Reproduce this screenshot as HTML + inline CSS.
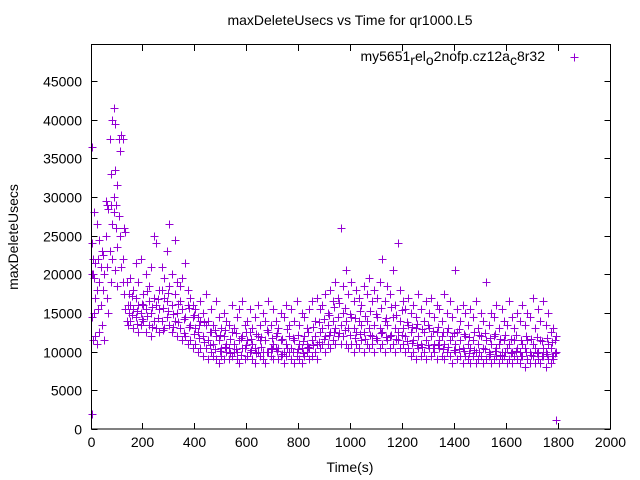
<!DOCTYPE html>
<html><head><meta charset="utf-8"><style>
body{margin:0;background:#fff;}
svg{display:block;font-family:"Liberation Sans",sans-serif;}
</style></head><body>
<svg id="chart" width="640" height="480" viewBox="0 0 640 480" xmlns="http://www.w3.org/2000/svg">
<rect width="640" height="480" fill="#fff"/>
<text x="350" y="25" font-size="14" text-anchor="middle">maxDeleteUsecs vs Time for qr1000.L5</text>
<text transform="translate(18,237) rotate(-90)" font-size="14" text-anchor="middle">maxDeleteUsecs</text>
<text x="350" y="472" font-size="14" text-anchor="middle">Time(s)</text>
<g id="ticks"></g>
<g id="pts"></g>
<rect x="91.5" y="44.5" width="519" height="384.5" fill="none" stroke="#000" stroke-width="1"/>
<g>
<text x="545" y="61" font-size="14" text-anchor="end">my5651<tspan dy="4">r</tspan><tspan dy="-4">el</tspan><tspan dy="4">o</tspan><tspan dy="-4">2nofp.cz12a</tspan><tspan dy="4">c</tspan><tspan dy="-4">8r32</tspan></text>
<path d="M570.5 57.5h8M574.5 53.5v8" stroke="#9400d3" stroke-width="1"/>
</g>
</svg>
<script>
const xTicks=[0,200,400,600,800,1000,1200,1400,1600,1800,2000];
const yTicks=[0,5000,10000,15000,20000,25000,30000,35000,40000,45000];
const times=[0,5,10,15,20,25,30,35,40,45,50,55,60,65,70,75,80,85,90,95,100,105,110,115,120,125,130,135,140,145,
150,160,170,180,190,200,210,220,230,240,250,260,270,280,290,300,310,320,330,340,350,360,370,380,390,400,410,420,430,440,450,460,470,480,490,500,510,520,530,540,550,560,570,580,590,600,610,620,630,640,650,660,670,680,690,700,710,720,730,740,750,760,770,780,790,800,810,820,830,840,850,860,870,880,890,900,910,920,930,940,950,960,970,980,990,1000,1010,1020,1030,1040,1050,1060,1070,1080,1090,1100,1110,1120,1130,1140,1150,1160,1170,1180,1190,1200,1210,1220,1230,1240,1250,1260,1270,1280,1290,1300,1310,1320,1330,1340,1350,1360,1370,1380,1390,1400,1410,1420,1430,1440,1450,1460,1470,1480,1490,1500,1510,1520,1530,1540,1550,1560,1570,1580,1590,1600,1610,1620,1630,1640,1650,1660,1670,1680,1690,1700,1710,1720,1730,1740,1750,1760,1770,1780,1790];
const maxDelete=[[36500,2000,24000,20000,14500],[20000,11500,22000],[19500,15000,28000],[17000,12000,21500],[26500,18000,11000],[22000,15500],[24500,19000,12500],[21000,16000],[23000,13500],[18000,22500],[20000,11500],[29500,25000],[29000,17000,21000],[28500,15000],[37500,23000],[29000,19000,33000],[40000,26500,22000],[41500,28000,30000],[39500,33500,20500],[29000,26000],[31500,18500,23500],[37500,27500],[36000,25000],[38000,21000],[37500,22000,19000],[26000,17500],[25500,15500],[19000,14000],[16000,13500],[17500,15000],
[16000,14000,19500],[15500,13000,18000],[17000,14500,21500],[16000,12500,19000],[15000,13500,22000],[17500,14000,16000],[15500,12500,20000],[16500,13500,18500],[15000,12000,21000],[17000,14000,25000],[16000,13000,24000],[15500,12500,18000],[18000,14000,21000],[17000,13000,19500],[16500,14500,23000],[18500,13500,26500],[16000,12500,20000],[17500,14000,24500],[15000,12000,19000],[16500,13000,18500],[15500,11500,19500],[14500,12000,21500],[16000,11000,18000],[13500,11500,17000],[14500,10500,16000],[13000,11000,15500],[12500,10000,14500],[14000,10500,16500],[12000,9500,15000],[13500,10500,17500],[11500,9000,14000],[12500,10000,15500],[11000,9500,13500],[12000,9000,16500],[11500,8500,14500],[10500,9500,13000],[12000,9000,15000],[11000,10000,14000],[10500,9000,13500],[12500,9500,16000],[11000,10000,13000],[10000,9000,14500],[11500,8500,15500],[12000,10500,16500],[10500,9000,13500],[11500,9500,14000],[12500,10000,15500],[11000,9000,13000],[10500,8500,14500],[12000,10000,16000],[11500,9500,13500],[10000,9000,15000],[11500,8500,14000],[12500,10000,16500],[10500,9500,13500],[11000,9000,15500],[12000,10500,14000],[10500,9000,13000],[11500,9500,15000],[10000,8500,14500],[11000,9500,16000],[12000,10000,13500],[10500,9000,15500],[11500,8500,14000],[10000,9500,16500],[11000,9000,13500],[10500,8500,15000],[12000,9500,14500],[11000,10000,13000],[10500,9000,15500],[11500,9500,16500],[12000,10000,14000],[11000,9000,17000],[12500,10500,15500],[13000,11000,16000],[12000,10000,17500],[13500,11000,15000],[12500,10500,18000],[14000,11500,16500],[13000,11000,19000],[14500,12000,17000],[13500,11000,26000],[15000,12000,18500],[14000,11000,20500],[13000,10500,17500],[14500,11000,19000],[13000,10000,16500],[12500,11000,18000],[14000,10500,17000],[13500,11500,16000],[12500,10000,18500],[14000,11000,17500],[13000,10500,19500],[12000,11000,16500],[13500,10000,18000],[14500,11500,17000],[13000,10500,19000],[12500,11000,22000],[14000,10000,16500],[13500,11500,18500],[12000,10500,17500],[14500,11000,20500],[13000,10000,16000],[12500,11500,24000],[14000,10500,18000],[13000,11000,16500],[12000,10000,15500],[13500,10500,17000],[12500,9500,15000],[11500,10000,16000],[13000,9000,14500],[12000,10500,17500],[11000,9500,15500],[12500,10000,14000],[11500,9000,16500],[13000,10500,15000],[12000,9500,17000],[11000,10000,14500],[12500,9000,16000],[11500,10500,15500],[12000,9500,14000],[11000,9000,17500],[12500,10000,15000],[11500,9500,16500],[12000,8500,14500],[11000,10000,20500],[12500,9000,15500],[11500,9500,14000],[10500,8500,16000],[12000,9500,15000],[11000,9000,13500],[10500,8500,15500],[11500,9500,14500],[10000,8500,16500],[11000,9000,13000],[12000,9500,15000],[10500,8500,14000],[11500,9000,19000],[10000,9500,13500],[11000,8500,15000],[12000,9000,14500],[10500,9500,16000],[11000,8500,13000],[10000,9000,15500],[11500,9500,14000],[10500,8500,13500],[11000,9000,16500],[10000,8500,14500],[11500,9500,13000],[10500,9000,15000],[10000,8500,14000],[11000,9500,16000],[10500,8000,13500],[11500,9000,15000],[10000,8500,14500],[11000,9500,17000],[10500,8500,13000],[10000,9000,15500],[11500,8500,14000],[10500,9500,16500],[10000,8000,13500],[11000,9000,15000],[10500,8500,12500],[9500,9000,13000],[10000,1200,12000]];
// in-between samples (time offset +5 from the 150..1790 grid)
const midTimes=[155,175,195,215,235,255,275,295,315,335,355,375,395,415,435,455,475,495,515,535,555,575,595,615,635,655,675,695,715,735,755,775,795,815,835,855,875,895,915,935,955,975,995,1015,1035,1055,1075,1095,1115,1135,1155,1175,1195,1215,1235,1255,1275,1295,1315,1335,1355,1375,1395,1415,1435,1455,1475,1495,1515,1535,1555,1575,1595,1615,1635,1655,1675,1695,1715,1735,1755,1775,1785];
const midValues=[[14800,17200],[15200,13600],[16200,14200],[14600,17800],[15800,13200],[14300,16800],[15600,12800],[15300,17600],[14900,13200],[13800,16200],[14200,12400],[13200,15600],[12300,14800],[11800,13400],[11200,13800],[10800,12600],[10300,12800],[10100,12200],[10600,12800],[9800,11600],[10300,12400],[9600,11800],[10800,12600],[10200,11600],[9800,12300],[10600,11900],[9900,12800],[10400,11800],[10100,12400],[9700,11600],[10500,12900],[9900,11800],[10300,12200],[9800,11400],[10600,12600],[10900,13200],[11300,13800],[11600,14200],[12200,14800],[12600,15800],[12400,16300],[12800,15600],[12100,14900],[11800,14300],[12300,15200],[11600,14600],[12100,15300],[11800,14900],[12400,15600],[11900,14400],[12200,15800],[11700,14800],[12100,15400],[11400,13800],[11100,13200],[10800,13600],[10600,12900],[10900,13400],[10500,12700],[10800,13200],[10300,12600],[10600,13100],[10200,12400],[10400,12900],[10100,12300],[9800,11900],[10200,12600],[9900,12100],[10300,12400],[9700,11800],[10100,12300],[9600,11700],[10000,12200],[9800,11600],[10100,12100],[9500,11500],[9900,12000],[9600,11700],[9800,11900],[9500,11400],[9700,11800],[9400,11300],[9800,11500]];
const X0=91.5,X1=610.5,Y0=429,Y1=45,XMAX=2000,YMAX=49650;
function sx(v){return X0+(X1-X0)*v/XMAX;}
function sy(v){return Y0-(Y0-Y1)*v/YMAX;}
const NS="http://www.w3.org/2000/svg";
const tg=document.getElementById('ticks');
xTicks.forEach(t=>{
 const x=Math.round(sx(t))-0.5;
 const p=document.createElementNS(NS,'path');
 p.setAttribute('d',`M${x} ${Y0}v-6M${x} ${Y1}v6`);p.setAttribute('stroke','#000');
 
 
 tg.appendChild(p);
 const tx=document.createElementNS(NS,'text');
 tx.setAttribute('x',x);tx.setAttribute('y',447);tx.setAttribute('font-size','14');tx.setAttribute('text-anchor','middle');
 tx.textContent=t;
 
 
 tg.appendChild(tx);
});
yTicks.forEach(t=>{
 const y=Math.round(sy(t))+0.5;
 const p=document.createElementNS(NS,'path');
 p.setAttribute('d',`M${X0} ${y}h6M${X1} ${y}h-6`);p.setAttribute('stroke','#000');
 
 
 tg.appendChild(p);
 const tx=document.createElementNS(NS,'text');
 tx.setAttribute('x',82);tx.setAttribute('y',y+5);tx.setAttribute('font-size','14');tx.setAttribute('text-anchor','end');
 tx.textContent=t;
 
 
 tg.appendChild(tx);
});
let d='';
function plus(t,v){
 const x=Math.round(sx(t))+0.5, y=Math.round(sy(v))+0.5;
 d+=`M${x-4} ${y}h8M${x} ${y-4}v8`;
}
times.forEach((t,i)=>{maxDelete[i].forEach(v=>plus(t,v));});
midTimes.forEach((t,i)=>{midValues[i].forEach(v=>plus(t,v));});
const pp=document.createElementNS(NS,'path');
pp.setAttribute('d',d);pp.setAttribute('stroke','#9400d3');pp.setAttribute('stroke-width','1');pp.setAttribute('fill','none');


document.getElementById('pts').appendChild(pp);
</script>
</body></html>
